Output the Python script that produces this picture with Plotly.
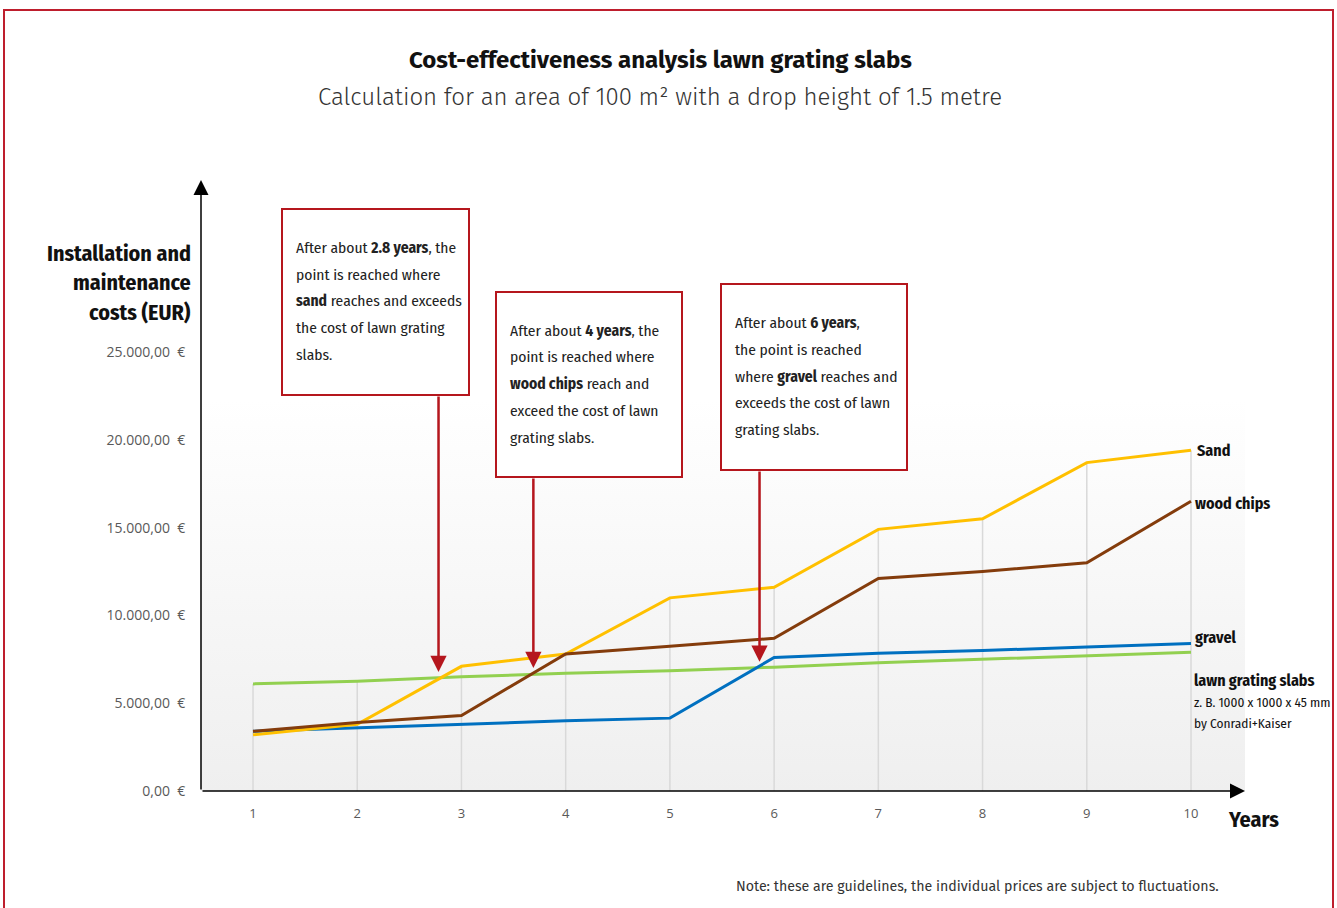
import plotly.graph_objects as go

# ---------------- data ----------------
years = [1, 2, 3, 4, 5, 6, 7, 8, 9, 10]
sand = [3200, 3800, 7100, 7800, 11000, 11600, 14900, 15500, 18700, 19400]
wood_chips = [3400, 3900, 4300, 7800, 8250, 8700, 12100, 12500, 13000, 16500]
gravel = [3400, 3600, 3800, 4000, 4150, 7600, 7850, 8000, 8200, 8400]
lawn_grating = [6100, 6250, 6500, 6700, 6850, 7050, 7300, 7500, 7700, 7900]
y_tick_vals = [0, 5000, 10000, 15000, 20000, 25000]
y_tick_text = ["0,00\u00a0\u00a0€", "5.000,00\u00a0\u00a0€", "10.000,00\u00a0\u00a0€",
               "15.000,00\u00a0\u00a0€", "20.000,00\u00a0\u00a0€", "25.000,00\u00a0\u00a0€"]
# callout arrow tips (years, EUR)
callout_x = [2.78, 3.69, 5.86]
callout_y = [6780, 7000, 7360]

# ---------------- layout constants ----------------
W, H = 1337, 908
L, R, T, B = 201, 92, 180, 117
PW, PH = W - L - R, H - T - B
XR = [0.501, 10.518]
YR = [0, 34795]

FONT = "Fira Sans Condensed, Liberation Sans Narrow, DejaVu Sans Condensed, Roboto Condensed, Roboto, sans-serif"
FONT_WIDE = "Fira Sans, Open Sans, sans-serif"
FONT_TICK = "Open Sans, Noto Sans, sans-serif"
RED = "#B5161D"

def px(x):
    return (x - L) / PW

def py(y):
    return (H - B - y) / PH

fig = go.Figure()

# gradient background
fig.add_trace(go.Scatter(
    x=[XR[0], XR[1], XR[1], XR[0], XR[0]],
    y=[0, 0, 22300, 22300, 0],
    fill="toself", mode="lines", line=dict(width=0),
    fillgradient=dict(type="vertical", colorscale=[[0, "#efefef"], [1, "#ffffff"]]),
    hoverinfo="skip", showlegend=False,
))

# drop lines from the highest value at each year
for i, x in enumerate(years):
    top = max(sand[i], wood_chips[i], gravel[i], lawn_grating[i])
    fig.add_trace(go.Scatter(x=[x, x], y=[0, top], mode="lines",
                             line=dict(color="#d9d9d9", width=1.5),
                             hoverinfo="skip", showlegend=False))

series = [
    ("lawn grating slabs", lawn_grating, "#92D050"),
    ("gravel", gravel, "#0070C0"),
    ("Sand", sand, "#FFC000"),
    ("wood chips", wood_chips, "#843C0C"),
]
for name, vals, col in series:
    fig.add_trace(go.Scatter(x=years, y=vals, mode="lines", name=name,
                             line=dict(color=col, width=3), showlegend=False))

ann = []
shapes = []

# frame
shapes.append(dict(type="rect", xref="paper", yref="paper",
                   x0=px(4), x1=px(1333), y0=py(10), y1=py(940),
                   line=dict(color="#BE1E2D", width=2), fillcolor="rgba(0,0,0,0)", layer="below"))

# title + subtitle
ann.append(dict(text="<b>Cost-effectiveness analysis lawn grating slabs</b>", xref="paper", yref="paper",
                x=px(660), y=py(60), showarrow=False, xanchor="center", yanchor="middle",
                font=dict(family=FONT_WIDE, size=24, color="#111")))
ann.append(dict(text="Calculation for an area of 100 m² with a drop height of 1.5 metre", xref="paper", yref="paper",
                x=px(660), y=py(97), showarrow=False, xanchor="center", yanchor="middle",
                font=dict(family=FONT_WIDE, size=24, color="#333", weight=300)))

# y-axis title
for txt, yy in [("Installation and", 253), ("maintenance", 282), ("costs (EUR)", 312)]:
    ann.append(dict(text="<b>" + txt + "</b>", xref="paper", yref="paper", x=px(193), y=py(yy),
                    showarrow=False, xanchor="right", yanchor="middle",
                    font=dict(family=FONT, size=22, color="#111")))
# x-axis title
ann.append(dict(text="<b>Years</b>", xref="paper", yref="paper", x=px(1226), y=py(819),
                showarrow=False, xanchor="left", yanchor="middle",
                font=dict(family=FONT, size=22, color="#111")))

# axes arrows
ann.append(dict(text="", xref="paper", yref="paper", x=0, y=1, ax=0, ay=PH,
                showarrow=True, arrowhead=2, arrowsize=2, arrowwidth=1.5, arrowcolor="#000"))
ann.append(dict(text="", xref="paper", yref="paper", x=1, y=0, ax=-PW, ay=0,
                showarrow=True, arrowhead=2, arrowsize=2, arrowwidth=1.5, arrowcolor="#000"))

# callout boxes
boxes = [
    ((282, 469, 209, 395), 294, [248, 275, 301, 328, 355],
     ["After about <b>2.8 years</b>, the", "point is reached where",
      "<b>sand</b> reaches and exceeds", "the cost of lawn grating", "slabs."]),
    ((496, 682, 292, 477), 508, [331, 357, 384, 411, 438],
     ["After about <b>4 years</b>, the", "point is reached where",
      "<b>wood chips</b> reach and", "exceed the cost of lawn", "grating slabs."]),
    ((721, 907, 284, 470), 733, [323, 350, 377, 403, 430],
     ["After about <b>6 years</b>,", "the point is reached",
      "where <b>gravel</b> reaches and", "exceeds the cost of lawn", "grating slabs."]),
]
for k, ((x0, x1, y0, y1), tx, lys, lines) in enumerate(boxes):
    shapes.append(dict(type="rect", xref="paper", yref="paper",
                       x0=px(x0), x1=px(x1), y0=py(y0), y1=py(y1),
                       line=dict(color=RED, width=2), fillcolor="white", layer="above"))
    for t, yy in zip(lines, lys):
        ann.append(dict(text=t, xref="paper", yref="paper", x=px(tx), y=py(yy),
                        showarrow=False, xanchor="left", yanchor="middle",
                        font=dict(family=FONT, size=15.5, color="#222")))

# callout arrows
tails = [395, 477, 470]
for cx, cy, tail in zip(callout_x, callout_y, tails):
    tip_px = H - B - (cy - YR[0]) / (YR[1] - YR[0]) * PH
    ann.append(dict(text="", x=cx, y=cy, xref="x", yref="y", ax=0, ay=-(tip_px - tail),
                    showarrow=True, arrowhead=2, arrowsize=1.3, arrowwidth=2.5, arrowcolor=RED))

# series labels
labels = [("<b>Sand</b>", sand[-1], 4, 0), ("<b>wood chips</b>", wood_chips[-1], 2, -2),
          ("<b>gravel</b>", gravel[-1], 2, 6)]
for t, v, xs, ys in labels:
    ann.append(dict(text=t, x=10, y=v, xref="x", yref="y", xshift=xs, yshift=ys,
                    showarrow=False, xanchor="left", yanchor="middle",
                    font=dict(family=FONT, size=16, color="#111")))
ann.append(dict(text="<b>lawn grating slabs</b>", xref="paper", yref="paper", x=px(1192), y=py(680),
                showarrow=False, xanchor="left", yanchor="middle",
                font=dict(family=FONT, size=16, color="#111")))
ann.append(dict(text="z. B. 1000 x 1000 x 45 mm", xref="paper", yref="paper", x=px(1192), y=py(703),
                showarrow=False, xanchor="left", yanchor="middle",
                font=dict(family=FONT, size=13.3, color="#111")))
ann.append(dict(text="by Conradi+Kaiser", xref="paper", yref="paper", x=px(1192), y=py(724),
                showarrow=False, xanchor="left", yanchor="middle",
                font=dict(family=FONT, size=13.3, color="#111")))

# note
ann.append(dict(text="Note: these are guidelines, the individual prices are subject to fluctuations.",
                xref="paper", yref="paper", x=px(1221), y=py(886), showarrow=False,
                xanchor="right", yanchor="middle", font=dict(family=FONT_WIDE, size=14.2, color="#333")))

fig.update_layout(
    width=W, height=H,
    margin=dict(l=L, r=R, t=T, b=B, pad=0),
    paper_bgcolor="white", plot_bgcolor="rgba(0,0,0,0)",
    showlegend=False,
    annotations=ann, shapes=shapes,
    xaxis=dict(range=XR, tickvals=years, ticktext=[str(v) for v in years],
               showgrid=False, zeroline=False, showline=False,
               ticks="outside", ticklen=10, tickcolor="rgba(0,0,0,0)",
               tickfont=dict(family=FONT_TICK, size=13, color="#595959")),
    yaxis=dict(range=YR, tickvals=y_tick_vals, ticktext=y_tick_text,
               showgrid=False, zeroline=False, showline=False,
               ticks="outside", ticklen=12, tickcolor="rgba(0,0,0,0)",
               tickfont=dict(family=FONT_TICK, size=14, color="#595959")),
)

fig.write_html("out.html", config={"displayModeBar": False},
               post_script="document.body.style.margin='0';")
